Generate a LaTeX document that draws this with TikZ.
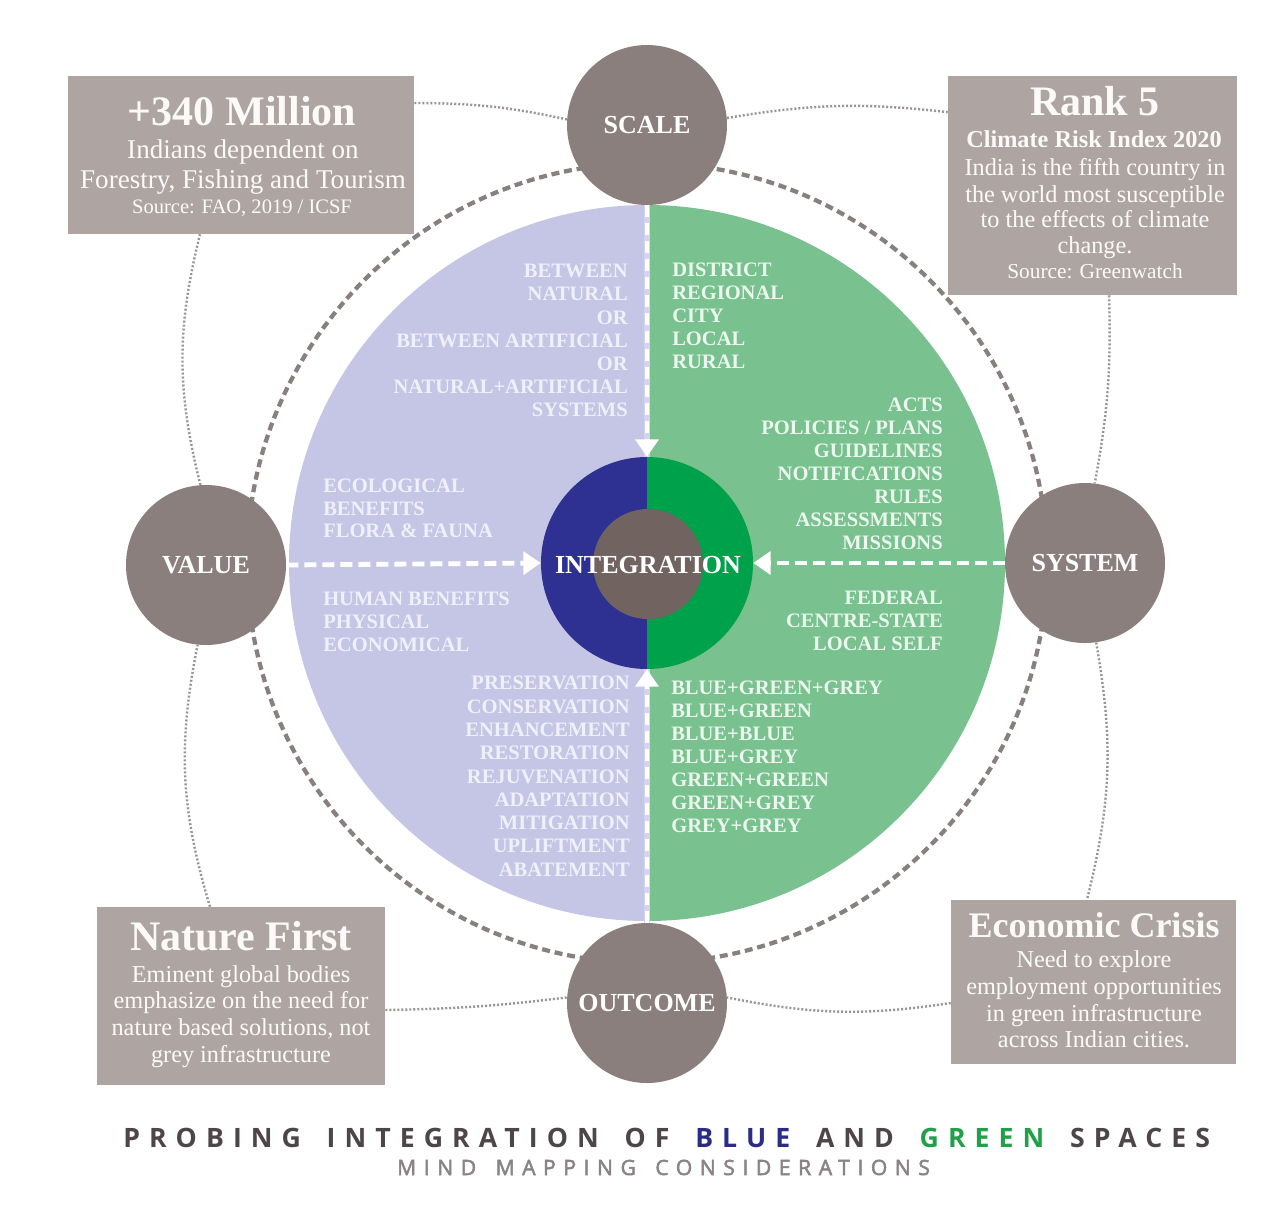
\documentclass[tikz,border=0pt]{standalone}
\usepackage{fontspec}
\setmainfont{Liberation Serif}
\newfontfamily\titlefont[LetterSpace=34]{Open Sans}
\newfontfamily\subfont[LetterSpace=36,FakeBold=2.5]{Open Sans}
\usetikzlibrary{arrows.meta}
\definecolor{boxc}{RGB}{174,165,163}
\definecolor{satc}{RGB}{138,127,124}
\definecolor{lav}{RGB}{197,198,229}
\definecolor{lavline}{RGB}{214,211,240}
\definecolor{grn}{RGB}{121,193,142}
\definecolor{iblue}{RGB}{46,49,146}
\definecolor{igreen}{RGB}{0,161,75}
\definecolor{corec}{RGB}{112,99,96}
\definecolor{dashc}{RGB}{136,128,126}
\definecolor{dotc}{RGB}{155,148,146}
\definecolor{titc}{RGB}{77,69,71}
\definecolor{tblue}{RGB}{43,45,132}
\definecolor{tgreen}{RGB}{33,160,74}
\definecolor{subc}{RGB}{138,130,132}
\definecolor{boxtext}{RGB}{252,250,248}
\definecolor{lavtext}{RGB}{240,240,250}
\definecolor{grntext}{RGB}{236,248,239}
\newcommand{\tgap}{\hspace{7.3pt} }
\newcommand{\sgap}{\hspace{4.8pt} }
\begin{document}
\begin{tikzpicture}[x=0.75pt,y=-0.75pt,
  sat/.style={circle, fill=satc, minimum size=120pt, inner sep=0pt, text=white,
    font=\bfseries\fontsize{19.5}{22}\selectfont},
  infobox/.style={rectangle, fill=boxc, inner sep=0pt},
  boxtxt/.style={text=boxtext, inner sep=0pt, anchor=base},
  qtl/.style={text=lavtext, inner sep=0pt, font=\bfseries\fontsize{15.4}{17}\selectfont},
  qtr/.style={text=grntext, inner sep=0pt, font=\bfseries\fontsize{15.4}{17}\selectfont},
  dotcon/.style={draw=dotc, line width=1.8pt, dash pattern=on 1.5pt off 1.5pt},
  dashring/.style={draw=dashc, line width=3.2pt, dash pattern=on 6pt off 3.6pt},
  warrow/.style={draw=white, line width=3.6pt, dash pattern=on 9pt off 4.5pt,
    -{Triangle[width=17pt,length=13pt]}},
  midstripe/.style={draw=lavline, line width=5.2pt}
]
\useasboundingbox[fill=white] (0,0) rectangle (1280,1211);

% dashed ring
\draw[dashring] (647,563) circle[radius=300pt];

% big circle halves
\fill[lav] (647,205) arc[start angle=90, end angle=270, radius=268.5pt] -- cycle;
\fill[grn] (647,205) arc[start angle=90, end angle=-90, radius=268.5pt] -- cycle;

% inner circle halves
\fill[iblue] (647,457) arc[start angle=90, end angle=270, radius=79.5pt] -- cycle;
\fill[igreen] (647,457) arc[start angle=90, end angle=-90, radius=79.5pt] -- cycle;
\node[circle, fill=corec, minimum size=82.5pt, inner sep=0pt] (core) at (648,564) {};
\node[circle, minimum size=159pt, inner sep=0pt] (integ) at (647,563) {};
\node[text=white, inner sep=0pt, font=\bfseries\fontsize{19.5}{22}\selectfont] (integtxt) at (648,565) {INTEGRATION};

% satellites
\node[sat] (scale) at (647,125) {SCALE};
\node[sat] (value) at (206,565) {VALUE};
\node[sat] (system) at (1085,563) {SYSTEM};
\node[sat] (outcome) at (647,1003) {OUTCOME};

% arrows to integration
\draw[midstripe] (scale.south) -- (integ.north);
\draw[midstripe] (outcome.north) -- (integ.south);
\draw[warrow] (scale.south) -- (integ.north);
\draw[warrow] (outcome.north) -- (integ.south);
\draw[warrow] (value.east) -- (integ.west);
\draw[warrow] (system.west) -- (integ.east);

% quadrant texts
\foreach \t [count=\i from 0] in {BETWEEN,NATURAL,OR,BETWEEN ARTIFICIAL,OR,NATURAL+ARTIFICIAL,SYSTEMS}
  \node[qtl, anchor=base east] (tl\i) at (628,277.8+23.17*\i) {\t};
\foreach \t [count=\i from 0] in {DISTRICT,REGIONAL,CITY,LOCAL,RURAL}
  \node[qtr, anchor=base west] (tr\i) at (672,276.8+23*\i) {\t};
\foreach \t [count=\i from 0] in {ACTS,POLICIES / PLANS,GUIDELINES,NOTIFICATIONS,RULES,ASSESSMENTS,MISSIONS}
  \node[qtr, anchor=base east] (ra\i) at (943,411.8+23*\i) {\t};
\foreach \t [count=\i from 0] in {FEDERAL,CENTRE-STATE,LOCAL SELF}
  \node[qtr, anchor=base east] (rb\i) at (943,604.8+23*\i) {\t};
\foreach \t [count=\i from 0] in {ECOLOGICAL,BENEFITS,FLORA \& FAUNA}
  \node[qtl, anchor=base west] (la\i) at (323,492.8+22.5*\i) {\t};
\foreach \t [count=\i from 0] in {HUMAN BENEFITS,PHYSICAL,ECONOMICAL}
  \node[qtl, anchor=base west] (lb\i) at (323,605.8+23*\i) {\t};
\foreach \t [count=\i from 0] in {PRESERVATION,CONSERVATION,ENHANCEMENT,RESTORATION,REJUVENATION,ADAPTATION,MITIGATION,UPLIFTMENT,ABATEMENT}
  \node[qtl, anchor=base east] (bl\i) at (630,689.8+23.3*\i) {\t};
\foreach \t [count=\i from 0] in {BLUE+GREEN+GREY,BLUE+GREEN,BLUE+BLUE,BLUE+GREY,GREEN+GREEN,GREEN+GREY,GREY+GREY}
  \node[qtr, anchor=base west] (br\i) at (671,694.8+23*\i) {\t};

% info boxes
\node[infobox, minimum width=259.5pt, minimum height=118.5pt] (b340) at (241,155) {};
\node[boxtxt, font=\bfseries\fontsize{31.5}{34}\selectfont] (b340a) at (242,125) {+340 Million};
\node[boxtxt, font=\fontsize{20.3}{23}\selectfont] (b340b) at (243,158) {Indians dependent on};
\node[boxtxt, font=\fontsize{20.3}{23}\selectfont] (b340c) at (243,188) {Forestry, Fishing and Tourism};
\node[boxtxt, font=\fontsize{15.4}{18}\selectfont] (b340d) at (242,213) {Source: FAO, 2019 / ICSF};

\node[infobox, minimum width=216.75pt, minimum height=164.25pt] (rank) at (1092.5,185.5) {};
\node[boxtxt, font=\bfseries\fontsize{31.5}{34}\selectfont] (ranka) at (1095,115) {Rank 5};
\node[boxtxt, font=\bfseries\fontsize{18.2}{21}\selectfont] (rankb) at (1094,147) {Climate Risk Index 2020};
\node[boxtxt, font=\fontsize{18.2}{21}\selectfont] (rankc) at (1095,175) {India is the fifth country in};
\node[boxtxt, font=\fontsize{18.2}{21}\selectfont] (rankd) at (1095,202) {the world most susceptible};
\node[boxtxt, font=\fontsize{18.2}{21}\selectfont] (ranke) at (1095,227) {to the effects of climate};
\node[boxtxt, font=\fontsize{18.2}{21}\selectfont] (rankf) at (1095,253) {change.};
\node[boxtxt, font=\fontsize{16}{19}\selectfont] (rankg) at (1095,278) {Source: Greenwatch};

\node[infobox, minimum width=216pt, minimum height=133.5pt] (nature) at (241,996) {};
\node[boxtxt, font=\bfseries\fontsize{31.5}{34}\selectfont] (naturea) at (241,950) {Nature First};
\node[boxtxt, font=\fontsize{18.2}{21}\selectfont] (natureb) at (241,982) {Eminent global bodies};
\node[boxtxt, font=\fontsize{18.2}{21}\selectfont] (naturec) at (241,1008) {emphasize on the need for};
\node[boxtxt, font=\fontsize{18.2}{21}\selectfont] (natured) at (241,1035) {nature based solutions, not};
\node[boxtxt, font=\fontsize{18.2}{21}\selectfont] (naturee) at (241,1062) {grey infrastructure};

\node[infobox, minimum width=213.75pt, minimum height=123pt] (econ) at (1093.5,982) {};
\node[boxtxt, font=\bfseries\fontsize{27}{30}\selectfont] (econa) at (1094,937) {Economic Crisis};
\node[boxtxt, font=\fontsize{18.2}{21}\selectfont] (econb) at (1094,967) {Need to explore};
\node[boxtxt, font=\fontsize{18.2}{21}\selectfont] (econc) at (1094,994) {employment opportunities};
\node[boxtxt, font=\fontsize{18.2}{21}\selectfont] (econd) at (1094,1021) {in green infrastructure};
\node[boxtxt, font=\fontsize{18.2}{21}\selectfont] (econe) at (1094,1047) {across Indian cities.};

% dotted connectors
\draw[dotcon] ([yshift=39pt]b340.east) to[bend left=6] (scale.176);
\draw[dotcon] (scale.5) to[bend left=8] ([yshift=55pt]rank.west);
\draw[dotcon] ([xshift=12.4pt]rank.south) to[bend left=6] (system.83);
\draw[dotcon] (system.278) to[bend left=12] ([xshift=-4.9pt]econ.north);
\draw[dotcon] ([yshift=-15.75pt]econ.west) to[bend left=10] (outcome.4);
\draw[dotcon] ([yshift=-10.5pt]nature.east) to[bend right=3] (outcome.176);
\draw[dotcon] ([xshift=-23.25pt]nature.north) to[bend left=14] (value.264);
\draw[dotcon] (value.94) to[bend left=14] ([xshift=-30.75pt]b340.south);

% title
\node[anchor=base west, inner sep=0pt] (title) at (123,1147)
  {\titlefont\bfseries\fontsize{20}{24}\selectfont\color{titc}PROBING\tgap INTEGRATION\tgap OF\tgap \textcolor{tblue}{BLUE}\tgap AND\tgap \textcolor{tgreen}{GREEN}\tgap SPACES};
\node[anchor=base west, inner sep=0pt] (subtitle) at (397,1175)
  {\subfont\fontsize{15.8}{18}\selectfont\color{subc}MIND\sgap MAPPING\sgap CONSIDERATIONS};
\end{tikzpicture}
\end{document}
